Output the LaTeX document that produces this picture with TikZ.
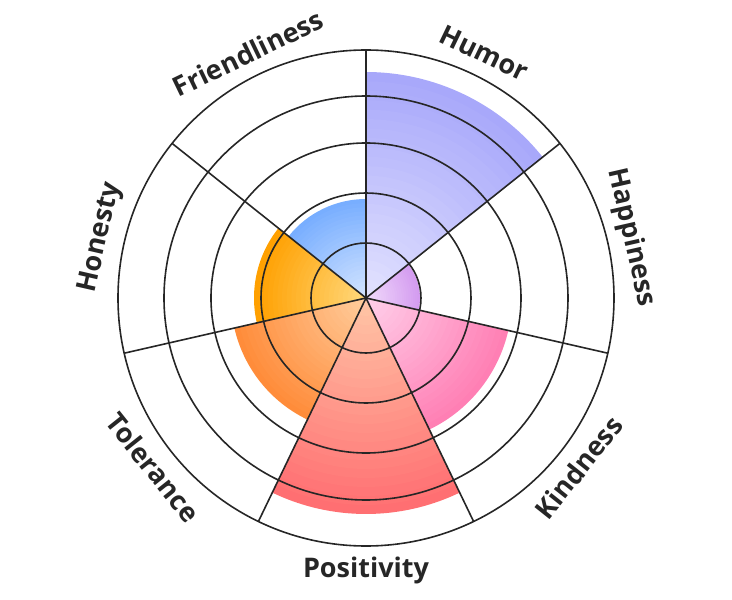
\documentclass[tikz,border=0pt]{standalone}
\usepackage{fontspec}
\setmainfont{Open Sans}
\definecolor{humorout}{HTML}{A8A8FA}
\definecolor{humorin}{HTML}{E4E4FF}
\definecolor{happyout}{HTML}{D49CF0}
\definecolor{happyin}{HTML}{F2DDFB}
\definecolor{kindout}{HTML}{FF7FB4}
\definecolor{kindin}{HTML}{FFD2EC}
\definecolor{posout}{HTML}{FF6F72}
\definecolor{posin}{HTML}{FFC8A8}
\definecolor{tolout}{HTML}{FF8C3A}
\definecolor{tolin}{HTML}{FFCFA0}
\definecolor{honout}{HTML}{FFA000}
\definecolor{honin}{HTML}{FFDA80}
\definecolor{frout}{HTML}{78AEFF}
\definecolor{frin}{HTML}{D6E6FF}
\tikzset{
  ring/.style={draw=black!85, line width=1.6pt},
  lbl/.style={font=\bfseries\fontsize{27}{30}\selectfont, text=black!85, inner sep=0pt}
}
\begin{document}
\begin{tikzpicture}[x=1pt,y=1pt]
	\useasboundingbox (-366,-302) rectangle (366,298);
	\coordinate (c) at (0,0);
	% value sectors
	\foreach \sa/\ea/\rad/\ci/\co in {38.57/90/226/humorin/humorout, -12.86/38.57/54/happyin/happyout,
	  -64.29/-12.86/146/kindin/kindout, -115.71/-64.29/216/posin/posout,
	  -167.14/-115.71/135/tolin/tolout, 141.43/192.86/112/honin/honout, 90/141.43/99/frin/frout}{
		\foreach \k in {24,...,1}{
			\pgfmathsetmacro\p{100*\k/24}
			\pgfmathsetmacro\rr{\rad*\k/24}
			\fill[\co!\p!\ci] (c) -- (\sa:\rr) arc[start angle=\sa, end angle=\ea, radius=\rr] -- cycle;
		}
	}
	% grid
	\foreach \r in {55,105,155,202,248}
		\draw[ring] (c) circle (\r);
	\foreach \a [count=\i] in {90,38.57,-12.86,-64.29,-115.71,-167.14,141.43}{
		\coordinate (s\i) at (\a:248);
		\draw[ring] (c) -- (s\i);
	}
	% labels
	\node[lbl, rotate=-25.71] (humor) at (64.29:272) {Humor};
	\node[lbl, rotate=-77.14] (happiness) at (12.86:272) {Happiness};
	\node[lbl, rotate=51.43] (kindness) at (-38.57:272) {Kindness};
	\node[lbl] (positivity) at (-90:272) {Positivity};
	\node[lbl, rotate=-51.43] (tolerance) at (-141.43:272) {Tolerance};
	\node[lbl, rotate=77.14] (honesty) at (167.14:272) {Honesty};
	\node[lbl, rotate=25.71] (friendliness) at (115.71:272) {Friendliness};
\end{tikzpicture}
\end{document}
